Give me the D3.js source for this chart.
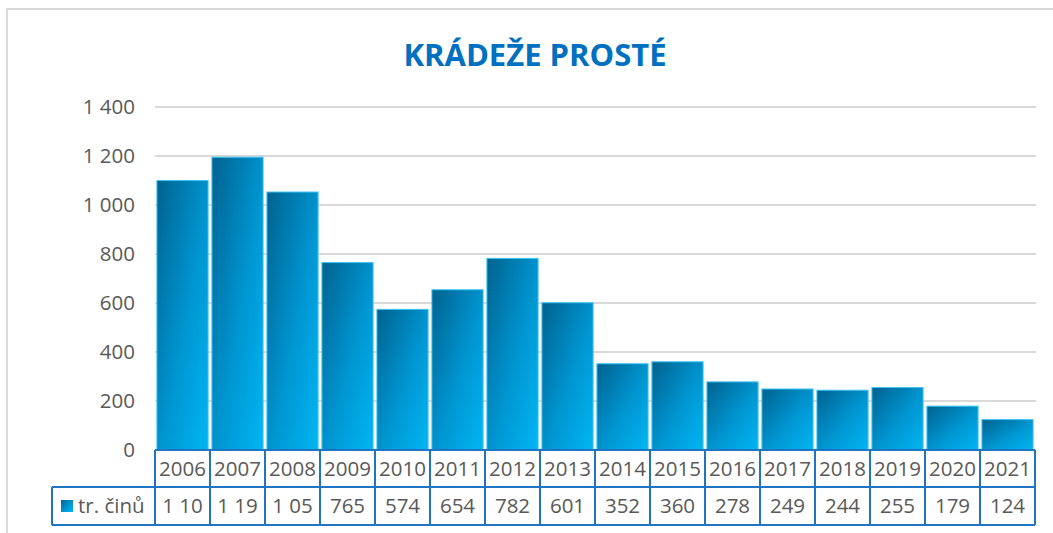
<!DOCTYPE html>
<html lang="cs">
<head>
<meta charset="UTF-8">
<title>Krádeže prosté</title>
<script src="https://cdnjs.cloudflare.com/ajax/libs/d3/7.8.5/d3.min.js"></script>
<style>
  body { margin: 0; background: #fff; }
  text { font-family: 'Open Sans', 'Liberation Sans', sans-serif; fill: #595959; }
</style>
</head>
<body>
<script>
  // data
  const years = ["2006","2007","2008","2009","2010","2011","2012","2013","2014","2015","2016","2017","2018","2019","2020","2021"];
  const counts = [1100, 1195, 1053, 765, 574, 654, 782, 601, 352, 360, 278, 249, 244, 255, 179, 124];
  const yTicks = [0, 200, 400, 600, 800, 1000, 1200, 1400];
  const seriesName = "tr. činů";

  const W = 1053, H = 533;
  const fs = "20.5px";
  const svg = d3.select("body").append("svg").attr("width", W).attr("height", H);

  // outer chart frame
  svg.append("rect").attr("x", 7).attr("y", 9).attr("width", W).attr("height", H)
    .attr("fill", "none").attr("stroke", "#d9d9d9").attr("stroke-width", 2);

  svg.append("text").attr("x", 535).attr("y", 66).attr("text-anchor", "middle")
    .style("font-size", "31px").style("font-weight", "bold").style("fill", "#0070c0")
    .text("KRÁDEŽE PROSTÉ");

  const plotL = 155, plotR = 1035, plotT = 107, base = 450;
  const x = d3.scaleBand().domain(years).range([plotL, plotR]).paddingInner(0.07).paddingOuter(0.035);
  const cols = d3.scaleBand().domain(years).range([plotL, plotR]);
  const y = d3.scaleLinear().domain([0, 1400]).range([base, plotT]);

  // gradient for bars
  const grad = svg.append("defs").append("linearGradient").attr("id", "barGrad")
    .attr("x1", "0").attr("y1", "0").attr("x2", "1").attr("y2", "1");
  grad.append("stop").attr("offset", "0%").attr("stop-color", "#00628f");
  grad.append("stop").attr("offset", "55%").attr("stop-color", "#0096d2");
  grad.append("stop").attr("offset", "100%").attr("stop-color", "#00b6f2");

  // gridlines
  svg.append("g").selectAll("line").data(yTicks.filter(d => d > 0)).join("line")
    .attr("x1", plotL).attr("x2", plotR + 1)
    .attr("y1", d => y(d)).attr("y2", d => y(d))
    .attr("stroke", "#d9d9d9").attr("stroke-width", 2);

  // y labels
  svg.append("g").selectAll("text").data(yTicks).join("text")
    .attr("x", 135).attr("y", d => y(d)).attr("dy", "0.35em")
    .attr("text-anchor", "end").style("font-size", fs)
    .text(d => d3.format(",")(d).replace(/,/g, " "));

  // bars
  svg.append("g").selectAll("rect").data(counts).join("rect")
    .attr("x", (d, i) => x(years[i]))
    .attr("y", d => y(d))
    .attr("width", x.bandwidth())
    .attr("height", d => base - y(d))
    .attr("fill", "url(#barGrad)")
    .attr("stroke", "#3cc4f4").attr("stroke-width", 1);

  // data table
  const row1 = base, row2 = 487, row3 = 525;
  const tbl = svg.append("g");
  const blue = "#1f74c4";

  // year row
  tbl.selectAll("text.yr").data(years).join("text").attr("class", "yr")
    .attr("x", d => cols(d) + cols.bandwidth() / 2).attr("y", (row1 + row2) / 2)
    .attr("dy", "0.35em").attr("text-anchor", "middle").style("font-size", fs)
    .text(d => d);

  // value row, Excel-style truncation when the number does not fit the cell
  tbl.selectAll("text.val").data(counts).join("text").attr("class", "val")
    .attr("x", (d, i) => cols(years[i]) + cols.bandwidth() / 2).attr("y", (row2 + row3) / 2)
    .attr("dy", "0.35em").attr("text-anchor", "middle").style("font-size", fs)
    .text(d => d3.format(",")(d).replace(/,/g, " "))
    .each(function() {
      const t = d3.select(this);
      let s = t.text();
      while (this.getComputedTextLength() > cols.bandwidth() - 10 && s.length > 1) {
        s = s.slice(0, -1);
        t.text(s);
      }
    });

  // legend cell
  tbl.append("rect").attr("x", 61).attr("y", (row2 + row3) / 2 - 6).attr("width", 12).attr("height", 12)
    .attr("fill", "url(#barGrad)");
  tbl.append("text").attr("x", 78).attr("y", (row2 + row3) / 2).attr("dy", "0.35em")
    .style("font-size", fs).text(seriesName);

  // table borders
  const line = (x1, y1, x2, y2) => tbl.append("line")
    .attr("x1", x1).attr("y1", y1).attr("x2", x2).attr("y2", y2)
    .attr("stroke", blue).attr("stroke-width", 2);
  line(plotL, row1, plotR, row1);
  line(52, row2, plotR, row2);
  line(52, row3, plotR, row3);
  line(52, row2, 52, row3);
  years.forEach(d => line(cols(d), row1, cols(d), row3));
  line(plotR, row1, plotR, row3);
</script>
</body>
</html>
